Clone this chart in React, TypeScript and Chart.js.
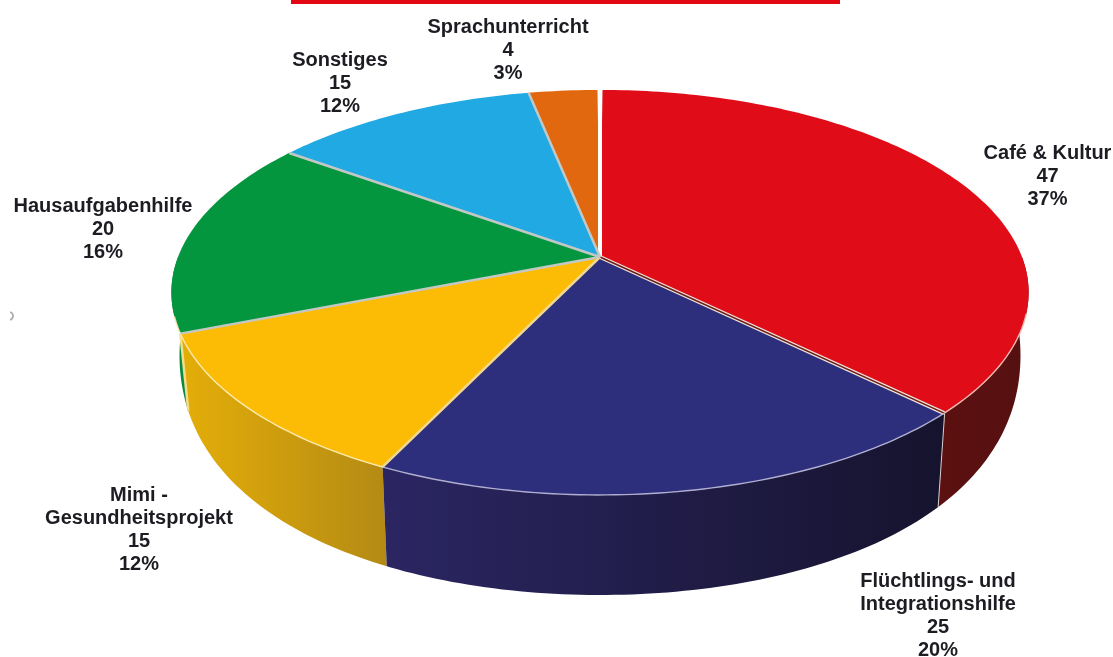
import React, { useEffect, useRef } from "react";
import { Chart, registerables } from "chart.js";

Chart.register(...registerables);

const categories: string[][] = [
  ["Café & Kultur"],
  ["Flüchtlings- und", "Integrationshilfe"],
  ["Mimi -", "Gesundheitsprojekt"],
  ["Hausaufgabenhilfe"],
  ["Sonstiges"],
  ["Sprachunterricht"],
];
const values = [47, 25, 15, 20, 15, 4];
const topColors = ["#e00d19", "#2d2e7c", "#fcbc05", "#03963f", "#21a9e3", "#e2680f"];
const wallStops: string[][] = [
  ["#5c1010", "#561010"],
  ["#2b2662", "#16132e"],
  ["#e4ae08", "#b48a14"],
  ["#0a8a40", "#0a8a40"],
  ["#1a80b0", "#1a80b0"],
  ["#a84e10", "#a84e10"],
];
const labelX = [1047.5, 938, 139, 103, 340, 508];
const labelY = [153, 581, 495, 206, 60, 27];

const W = 1113;
const H = 657;
const CX = 600;
const TOP = { y0: 257, a: 422, b: 196.3, p: 0.175 };
const BASE = { y0: 305, a: 414, b: 290, p: 0.175 };

const topPt = (ang: number): [number, number] => {
  const u = Math.cos(ang);
  const v = Math.sin(ang);
  const w = 1 - TOP.p * v;
  return [CX + (TOP.a * u) / w, TOP.y0 + (TOP.b * v) / w];
};
const basePt = (ang: number): [number, number] => {
  const u = Math.cos(ang);
  const v = Math.sin(ang);
  const w = 1 - BASE.p * v;
  return [CX + (BASE.a * u) / w, BASE.y0 + BASE.b * v];
};

const piePlugin = {
  id: "perspectivePie",
  beforeDatasetDraw(chart: any) {
    const ctx: CanvasRenderingContext2D = chart.ctx;
    const arcs: any[] = chart.getDatasetMeta(0).data;
    const STEP = Math.PI / 180;
    ctx.save();
    ctx.lineJoin = "round";

    // side walls: back-most first, only the part facing the viewer
    [3, 0, 2, 1].forEach((i) => {
      const a0 = Math.max(arcs[i].startAngle, 0);
      const a1 = Math.min(arcs[i].endAngle, Math.PI);
      if (a1 <= a0) return;
      const pts: [number, number][] = [];
      const low: [number, number][] = [];
      for (let a = a0; a < a1; a += STEP) {
        pts.push(topPt(a));
        low.push(basePt(a));
      }
      pts.push(topPt(a1));
      low.push(basePt(a1));
      const xs = [...pts, ...low].map((p) => p[0]);
      const g = ctx.createLinearGradient(Math.min(...xs), 0, Math.max(...xs), 0);
      g.addColorStop(0, wallStops[i][0]);
      g.addColorStop(1, wallStops[i][1]);
      ctx.beginPath();
      pts.forEach((p, k) => (k ? ctx.lineTo(p[0], p[1]) : ctx.moveTo(p[0], p[1])));
      low.reverse().forEach((p) => ctx.lineTo(p[0], p[1]));
      ctx.closePath();
      ctx.fillStyle = g;
      ctx.fill();
      // front vertical edges
      ctx.strokeStyle = i === 2 ? "#f3dc8c" : "#d8d0d0";
      ctx.lineWidth = i === 2 ? 2.5 : 2;
      const edge = (a: number) => {
        const t = topPt(a);
        const b = basePt(a);
        ctx.beginPath();
        ctx.moveTo(t[0], t[1]);
        ctx.lineTo(b[0], b[1]);
        ctx.stroke();
      };
      if (i === 0 || i === 2) edge(a1);
    });

    // top faces
    arcs.forEach((arc, i) => {
      const s = arc.startAngle + (i === 0 ? 0.007 : 0);
      const e = arc.endAngle - (i === 5 ? 0.007 : 0);
      ctx.beginPath();
      ctx.moveTo(CX, TOP.y0);
      for (let a = s; a < e; a += STEP) {
        const p = topPt(a);
        ctx.lineTo(p[0], p[1]);
      }
      const last = topPt(e);
      ctx.lineTo(last[0], last[1]);
      ctx.closePath();
      ctx.fillStyle = topColors[i];
      ctx.fill();
    });

    // hairlines between slices and on the front rim
    arcs.forEach((arc, i) => {
      const p = topPt(arc.startAngle);
      ctx.beginPath();
      ctx.moveTo(CX, TOP.y0);
      ctx.lineTo(p[0], p[1]);
      ctx.strokeStyle = i === 1 ? "#efe3dc" : i === 0 ? "#ffffff" : i === 2 ? "#f0d890" : "#c4c8c4";
      ctx.lineWidth = i === 1 ? 4 : i === 0 ? 4 : 2.5;
      ctx.stroke();
      if (i === 1) {
        ctx.strokeStyle = "#6a2018";
        ctx.lineWidth = 1.6;
        ctx.stroke();
      }
      const a0 = Math.max(arc.startAngle, 0.28);
      const a1 = Math.min(arc.endAngle, 2.85);
      if (a1 > a0) {
        ctx.beginPath();
        for (let a = a0; a < a1; a += STEP) {
          const t = topPt(a);
          if (a === a0) ctx.moveTo(t[0], t[1]);
          else ctx.lineTo(t[0], t[1]);
        }
        const t = topPt(a1);
        ctx.lineTo(t[0], t[1]);
        ctx.strokeStyle = i === 1 ? "#b0aed0" : i === 0 ? "#f2b8b0" : "#fbeab0";
        ctx.lineWidth = 1.4;
        ctx.stroke();
      }
    });
    ctx.restore();
    return false;
  },
  afterDraw(chart: any) {
    const ctx: CanvasRenderingContext2D = chart.ctx;
    const total = values.reduce((s, v) => s + v, 0);
    ctx.save();
    ctx.font = 'bold 20px "Liberation Sans", Arial, sans-serif';
    ctx.fillStyle = "#1c1c22";
    ctx.textAlign = "center";
    ctx.textBaseline = "middle";
    categories.forEach((lines, i) => {
      const rows = [...lines, String(values[i]), `${Math.round((values[i] / total) * 100)}%`];
      rows.forEach((row, k) => ctx.fillText(row, labelX[i], labelY[i] + k * 23.3));
    });
    // small scan artefact on the left margin
    ctx.strokeStyle = "#b0b0b0";
    ctx.lineWidth = 2;
    ctx.beginPath();
    ctx.arc(9, 316, 4, -Math.PI / 2.4, Math.PI / 2.4);
    ctx.stroke();
    ctx.restore();
  },
};

export default function App() {
  const ref = useRef<HTMLCanvasElement>(null);
  useEffect(() => {
    if (!ref.current) return;
    const chart = new Chart(ref.current, {
      type: "pie",
      data: {
        labels: categories.map((c) => c.join(" ")),
        datasets: [{ data: values, backgroundColor: topColors, borderWidth: 0 }],
      },
      options: {
        animation: false,
        responsive: false,
        devicePixelRatio: 1,
        plugins: { legend: { display: false }, tooltip: { enabled: false } },
      },
      plugins: [piePlugin],
    } as any);
    return () => chart.destroy();
  }, []);
  return (
    <div style={{ position: "fixed", left: 0, top: 0, width: W, height: H, background: "#fff", overflow: "hidden" }}>
      <canvas ref={ref} width={W} height={H} style={{ display: "block", width: W, height: H, filter: "blur(0.7px)" }} />
      <div style={{ position: "absolute", left: 291, top: 0, width: 549, height: 4, background: "#e30613" }} />
    </div>
  );
}
